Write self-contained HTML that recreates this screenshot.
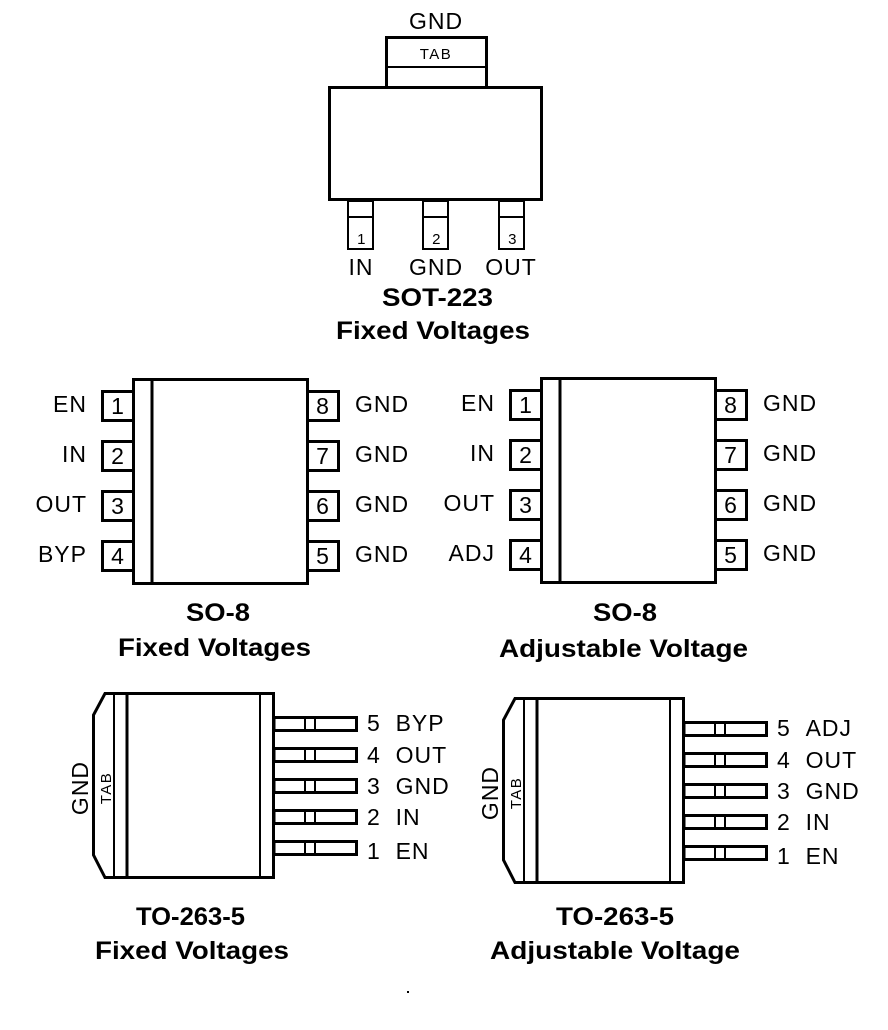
<!DOCTYPE html>
<html><head><meta charset="utf-8"><style>
html,body{margin:0;padding:0;background:#fff}
svg{display:block}
text{font-family:"Liberation Sans",Arial,sans-serif;fill:#000}
.l{font-size:23px;letter-spacing:1px}
.b{font-size:25px;font-weight:bold}
.s{font-size:15px;letter-spacing:1.5px}
</style></head><body>
<svg width="888" height="1030" viewBox="0 0 888 1030" xmlns="http://www.w3.org/2000/svg">
<defs>
<g id="so8">
  <rect x="133.5" y="379.5" width="174" height="204" fill="none" stroke="#000" stroke-width="3"/>
  <line x1="152" y1="379" x2="152" y2="584" stroke="#000" stroke-width="3"/>
  <g fill="none" stroke="#000" stroke-width="3">
    <path d="M132 391.5H102.5V420.5H132"/>
    <path d="M132 441.5H102.5V470.5H132"/>
    <path d="M132 491.5H102.5V520.5H132"/>
    <path d="M132 541.5H102.5V570.5H132"/>
    <path d="M309 391.5H338.5V420.5H309"/>
    <path d="M309 441.5H338.5V470.5H309"/>
    <path d="M309 491.5H338.5V520.5H309"/>
    <path d="M309 541.5H338.5V570.5H309"/>
  </g>
  <g class="l" text-anchor="middle">
    <text x="118" y="414">1</text><text x="118" y="464">2</text><text x="118" y="514">3</text><text x="118" y="564">4</text>
    <text x="323" y="414">8</text><text x="323" y="464">7</text><text x="323" y="514">6</text><text x="323" y="564">5</text>
  </g>
  <g class="l">
    <text x="355" y="412">GND</text><text x="355" y="462">GND</text><text x="355" y="512">GND</text><text x="355" y="562">GND</text>
  </g>
</g>
<g id="to">
  <path d="M105 693.5H273.5V877.5H105L93.5 855V715Z" fill="none" stroke="#000" stroke-width="3"/>
  <line x1="114" y1="693" x2="114" y2="878" stroke="#000" stroke-width="2"/>
  <line x1="127" y1="693" x2="127" y2="878" stroke="#000" stroke-width="3"/>
  <line x1="260" y1="693" x2="260" y2="878" stroke="#000" stroke-width="2"/>
  <g fill="none" stroke="#000">
    <g id="pin">
      <rect x="274" y="717.5" width="82.5" height="13" stroke-width="3"/>
      <line x1="305" y1="717" x2="305" y2="731" stroke-width="2"/>
      <line x1="315" y1="717" x2="315" y2="731" stroke-width="2"/>
    </g>
    <use href="#pin" y="31"/><use href="#pin" y="62"/><use href="#pin" y="93"/><use href="#pin" y="124"/>
  </g>
  <text class="l" transform="translate(88,788) rotate(-90)" text-anchor="middle">GND</text>
  <text class="s" transform="translate(111,788) rotate(-90)" text-anchor="middle">TAB</text>
  <g class="l">
    <text x="367" y="763">4&#160;&#160;OUT</text>
    <text x="367" y="794">3&#160;&#160;GND</text>
    <text x="367" y="825">2&#160;&#160;IN</text>
    <text x="367" y="859">1&#160;&#160;EN</text>
  </g>
</g>
</defs>

<!-- SOT-223 -->
<rect x="386.5" y="37.5" width="100" height="50" fill="none" stroke="#000" stroke-width="3"/>
<line x1="386" y1="67" x2="487" y2="67" stroke="#000" stroke-width="2"/>
<text class="s" x="436" y="59" text-anchor="middle">TAB</text>
<rect x="329.5" y="87.5" width="212" height="112" fill="#fff" stroke="#000" stroke-width="3"/>
<g fill="none" stroke="#000" stroke-width="2">
  <rect x="348" y="201" width="25" height="48"/><line x1="348" y1="217" x2="373" y2="217"/>
  <rect x="423" y="201" width="25" height="48"/><line x1="423" y1="217" x2="448" y2="217"/>
  <rect x="499" y="201" width="25" height="48"/><line x1="499" y1="217" x2="524" y2="217"/>
</g>
<g class="s" text-anchor="middle"><text x="362" y="244">1</text><text x="437" y="244">2</text><text x="513" y="244">3</text></g>
<g class="l" text-anchor="middle">
  <text x="436" y="29">GND</text>
  <text x="361" y="275">IN</text><text x="436" y="275">GND</text><text x="511" y="275">OUT</text>
</g>
<g class="b">
  <text x="382" y="306" textLength="111" lengthAdjust="spacingAndGlyphs">SOT-223</text>
  <text x="336" y="339" textLength="194" lengthAdjust="spacingAndGlyphs">Fixed Voltages</text>
</g>

<!-- SO-8 left -->
<use href="#so8"/>
<g class="l" text-anchor="end">
  <text x="87" y="412">EN</text><text x="87" y="462">IN</text><text x="87" y="512">OUT</text><text x="87" y="562">BYP</text>
</g>
<g class="b">
  <text x="186" y="621" textLength="64" lengthAdjust="spacingAndGlyphs">SO-8</text>
  <text x="118" y="656" textLength="193" lengthAdjust="spacingAndGlyphs">Fixed Voltages</text>
</g>

<!-- SO-8 right -->
<use href="#so8" x="408" y="-1"/>
<g class="l" text-anchor="end">
  <text x="495" y="411">EN</text><text x="495" y="461">IN</text><text x="495" y="511">OUT</text><text x="495" y="561">ADJ</text>
</g>
<g class="b">
  <text x="593" y="621" textLength="64" lengthAdjust="spacingAndGlyphs">SO-8</text>
  <text x="499" y="657" textLength="249" lengthAdjust="spacingAndGlyphs">Adjustable Voltage</text>
</g>

<!-- TO-263 left -->
<use href="#to"/>
<text class="l" x="367" y="731">5&#160;&#160;BYP</text>
<g class="b">
  <text x="136" y="925" textLength="109" lengthAdjust="spacingAndGlyphs">TO-263-5</text>
  <text x="95" y="959" textLength="194" lengthAdjust="spacingAndGlyphs">Fixed Voltages</text>
</g>

<!-- TO-263 right -->
<use href="#to" x="410" y="5"/>
<text class="l" x="777" y="736">5&#160;&#160;ADJ</text>
<g class="b">
  <text x="556" y="925" textLength="118" lengthAdjust="spacingAndGlyphs">TO-263-5</text>
  <text x="490" y="959" textLength="250" lengthAdjust="spacingAndGlyphs">Adjustable Voltage</text>
</g>

<rect x="407" y="991" width="2" height="2" fill="#000"/>
</svg>
</body></html>
